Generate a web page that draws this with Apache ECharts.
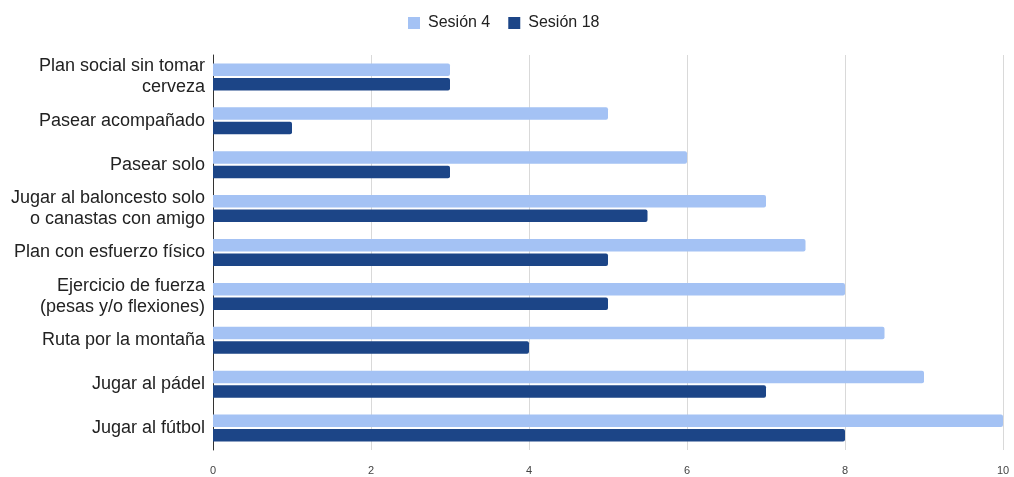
<!DOCTYPE html>
<html><head><meta charset="utf-8">
<script src="https://cdn.jsdelivr.net/npm/echarts@6/dist/echarts.min.js"></script>
<style>html,body{margin:0;padding:0;background:#fff}#c{width:1014px;height:477px}</style>
</head><body><div id="c"></div>
<script>
const categories = [
  "Plan social sin tomar\ncerveza",
  "Pasear acompañado",
  "Pasear solo",
  "Jugar al baloncesto solo\no canastas con amigo",
  "Plan con esfuerzo físico",
  "Ejercicio de fuerza\n(pesas y/o flexiones)",
  "Ruta por la montaña",
  "Jugar al pádel",
  "Jugar al fútbol"
];
const sesion4 = [3, 5, 6, 7, 7.5, 8, 8.5, 9, 10];
const sesion18 = [3, 1, 3, 5.5, 5, 5, 4, 7, 8];
const seriesNames = ["Sesión 4", "Sesión 18"];

const FF = "'Liberation Sans', Arial, sans-serif";
const chart = echarts.init(document.getElementById('c'));
chart.setOption({
  animation: false,
  textStyle: { fontFamily: FF },
  legend: {
    top: 10, left: 403,
    itemWidth: 12, itemHeight: 12, itemGap: 18,
    icon: 'rect',
    textStyle: { fontSize: 16, color: '#222', fontFamily: FF, padding: [0, 0, 0, 3] },
    data: seriesNames
  },
  grid: { left: 213, right: 11, top: 55, bottom: 27, containLabel: false },
  xAxis: {
    type: 'value', min: 0, max: 10, interval: 2,
    axisLine: { show: false }, axisTick: { show: false },
    splitLine: { lineStyle: { color: '#d9d9d9', width: 1 } },
    axisLabel: { fontSize: 11, color: '#444', margin: 15, fontFamily: FF }
  },
  yAxis: {
    type: 'category', inverse: true, data: categories,
    axisLine: { show: true, lineStyle: { color: '#333', width: 1 } },
    axisTick: { show: false },
    axisLabel: { fontSize: 18, color: '#222', margin: 8, lineHeight: 21, align: 'right', fontFamily: FF, padding: [5, 0, 0, 0] }
  },
  series: [
    { name: seriesNames[0], type: 'bar', data: sesion4, barWidth: 12.5, barGap: '16%', barCategoryGap: '38%',
      itemStyle: { color: '#a4c2f4', borderRadius: [0, 2, 2, 0] } },
    { name: seriesNames[1], type: 'bar', data: sesion18, barWidth: 12.5, barGap: '16%',
      itemStyle: { color: '#1c4587', borderRadius: [0, 2, 2, 0] } }
  ]
});
</script></body></html>
